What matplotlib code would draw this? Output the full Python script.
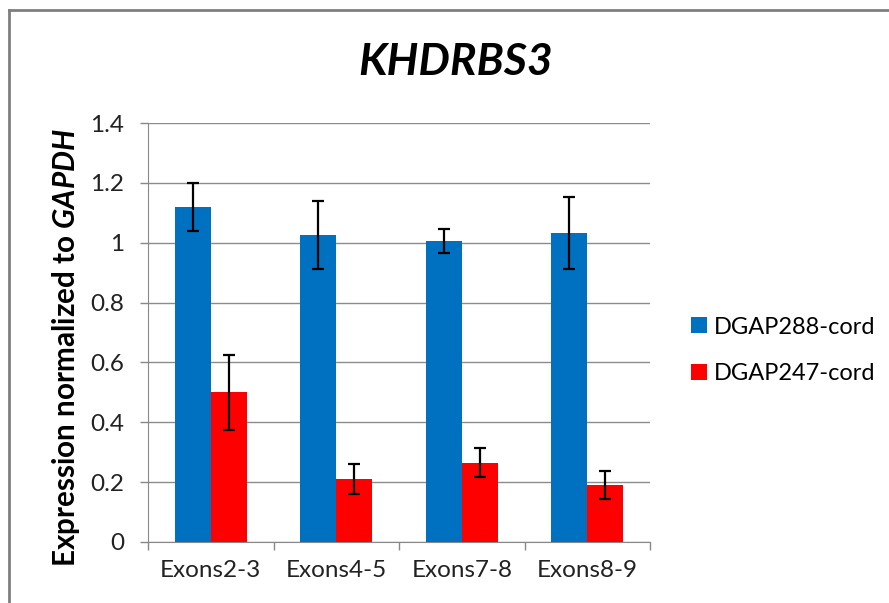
import matplotlib
matplotlib.use("Agg")
import matplotlib.pyplot as plt
import numpy as np
from matplotlib.lines import Line2D

# veriler
kategoriler = ["Exons2-3", "Exons4-5", "Exons7-8", "Exons8-9"]
seri_adlari = ["DGAP288-cord", "DGAP247-cord"]
mavi = [1.12, 1.027, 1.006, 1.032]
mavi_hata = [0.08, 0.114, 0.04, 0.12]
kirmizi = [0.50, 0.21, 0.265, 0.19]
kirmizi_hata = [0.125, 0.05, 0.048, 0.046]
yticks = [0, 0.2, 0.4, 0.6, 0.8, 1, 1.2, 1.4]
ytick_etiket = ["0", "0.2", "0.4", "0.6", "0.8", "1", "1.2", "1.4"]

plt.rcParams["font.family"] = ["Lato", "DejaVu Sans"]
plt.rcParams["mathtext.fontset"] = "custom"
plt.rcParams["mathtext.bfit"] = "Lato:italic:bold"
plt.rcParams["mathtext.it"] = "Lato:italic"
plt.rcParams["mathtext.bf"] = "Lato:bold"
plt.rcParams["mathtext.rm"] = "Lato"

fig = plt.figure(figsize=(8.89, 6.03), dpi=100)
ax = fig.add_axes([0.1665, 0.1012, 0.5647, 0.6948])

x = np.arange(len(kategoriler))
w = 0.287
hata_stil = dict(ecolor="black", elinewidth=1.6, capsize=4.3, capthick=1.6)
ax.bar(x - w / 2, mavi, w, yerr=mavi_hata, color="#0070C0", label=seri_adlari[0],
       error_kw=hata_stil, zorder=3)
ax.bar(x + w / 2, kirmizi, w, yerr=kirmizi_hata, color="#FF0000", label=seri_adlari[1],
       error_kw=hata_stil, zorder=3)

ax.set_xlim(-0.5, len(kategoriler) - 0.5)
ax.set_ylim(0, 1.4)
ax.set_yticks(yticks)
ax.set_yticklabels(ytick_etiket, fontsize=17.5, color="#222222")
ax.set_xticks(x)
ax.set_xticklabels(kategoriler, fontsize=17.5, color="#222222")
ax.set_xticks(np.arange(len(kategoriler) + 1) - 0.5, minor=True)
ax.tick_params(axis="x", which="major", length=0, pad=13)
ax.tick_params(axis="x", which="minor", length=6, color="#888888", width=1)
ax.tick_params(axis="y", length=6, color="#888888", width=1, pad=11)

ax.yaxis.grid(True, color="#8c8c8c", linewidth=1, zorder=0)
ax.set_axisbelow(True)
for s in ["top", "right"]:
    ax.spines[s].set_visible(False)
ax.spines["left"].set_color("#888888")
ax.spines["bottom"].set_color("#888888")

ax.set_ylabel(r"Expression normalized to $\mathbfit{GAPDH}$", fontsize=21.3,
              fontweight="bold")
ax.yaxis.set_label_coords(-0.131, 0.463)
fig.text(0.512, 0.897, "KHDRBS3", fontsize=32, fontweight="bold", style="italic",
         ha="center", va="center")

ax.legend(loc="center left", bbox_to_anchor=(1.04, 0.457), frameon=False,
          fontsize=17, handlelength=0.65, handleheight=0.65, handletextpad=0.3,
          labelspacing=1.1)

# cerceve
fig.add_artist(Line2D([9 / 889, 1], [1 - 10 / 603, 1 - 10 / 603],
                      transform=fig.transFigure, color="#7f7f7f", linewidth=2))
fig.add_artist(Line2D([9 / 889, 9 / 889], [0, 1 - 10 / 603],
                      transform=fig.transFigure, color="#7f7f7f", linewidth=2))

fig.savefig("out.png", dpi=100)
